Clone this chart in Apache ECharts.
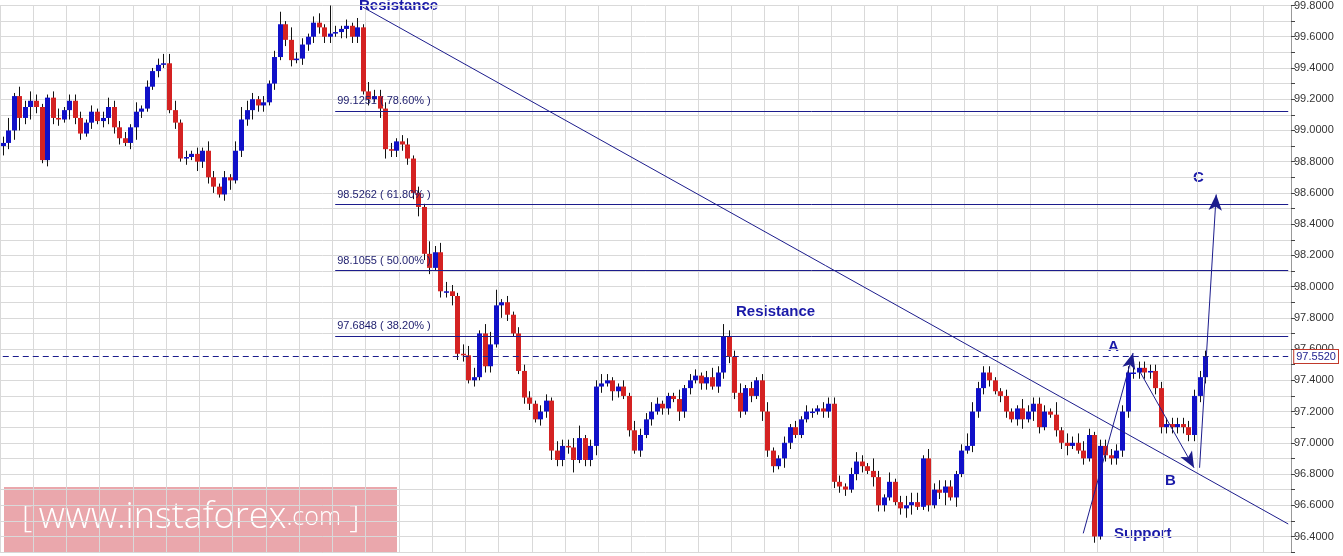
<!DOCTYPE html>
<html><head><meta charset="utf-8">
<script src="https://cdn.jsdelivr.net/npm/echarts@6/dist/echarts.min.js"></script>
<style>html,body{margin:0;padding:0;background:#fff}#c{width:1343px;height:556px}</style>
</head><body><div id="c"></div>
<script>
const closes = [
98.92,99.00,99.22,99.08,99.15,99.19,99.15,98.81,99.21,99.08,99.07,99.13,99.19,99.08,98.98,99.05,99.12,99.06,99.08,99.15,99.02,98.95,98.92,99.02,99.12,99.14,99.28,99.38,99.42,99.43,99.13,
99.05,98.82,98.83,98.85,98.80,98.87,98.70,98.64,98.59,98.70,98.68,98.87,99.07,99.13,99.20,99.16,99.18,99.30,99.47,99.68,99.58,99.45,99.46,99.55,99.60,99.69,99.66,99.60,99.62,99.63,99.65,99.67,99.60,99.66,
99.25,99.20,99.22,99.14,98.88,98.87,98.93,98.91,98.82,98.60,98.51,98.21,98.12,98.22,
97.97,97.97,97.94,97.57,97.56,97.40,97.42,97.70,97.49,97.63,97.88,97.90,97.82,97.70,97.46,97.29,97.25,97.15,97.20,97.27,96.95,96.89,96.98,96.97,96.89,97.03,96.89,96.98,97.36,
97.38,97.40,97.33,97.36,97.30,97.08,96.95,97.05,97.15,97.20,97.25,97.22,97.30,97.28,97.20,97.35,97.40,97.43,97.38,97.42,97.36,97.45,97.68,
97.55,97.32,97.20,97.35,97.30,97.40,97.20,96.95,96.85,96.90,97.00,97.10,97.05,97.15,97.20,97.20,97.22,97.20,97.25,96.75,96.72,96.70,96.80,96.88,96.85,96.82,96.78,96.60,96.65,96.75,96.62,96.58,96.60,96.62,96.59,96.90,96.60,96.70,96.68,96.72,96.65,96.80,96.95,96.98,97.20,97.35,97.45,97.40,97.33,97.30,97.20,97.15,97.22,97.15,97.20,97.25,97.10,97.20,97.18,97.08,97.00,96.98,97.00,96.95,96.90,97.05,96.40,
96.98,96.92,96.90,96.95,97.20,97.45,97.45,97.48,97.45,97.46,97.35,97.10,97.12,97.10,97.12,97.10,97.05,97.30,97.42,97.55
];
const firstOpen = 98.90;
// wick lengths in units of 0.02, one digit per candle
const wickUp = "2413232112312221212322213121233312121321213432121241422123192121313222212212142332133313451212221221322341223211213223211131221232422312123112121211222212321421312333132322124322211211322221413233212";
const wickDn = "3234242122213221212222124211211212132221231223221212212222221232212133222223221223221212214211221223222412232132121212122132212212222212132213211121222221221322112331121241311222212212313211223112121";
const fibLevels = [99.1251, 98.5262, 98.1055, 97.6848];
const fibLabels = ["99.1251 ( 78.60% )", "98.5262 ( 61.80% )", "98.1055 ( 50.00% )", "97.6848 ( 38.20% )"];
const lastPrice = 97.552;
const padCount = 15;

const n = closes.length;
const cats = [];
for (let i = 0; i < n + padCount; i++) cats.push(String(i));
const ohlc = closes.map((c, i) => {
  const o = i === 0 ? firstOpen : closes[i - 1];
  const up = (parseInt(wickUp[i]) || 2) * 0.02;
  const dn = (parseInt(wickDn[i]) || 2) * 0.02;
  return [i, o, c, Math.min(o, c) - dn, Math.max(o, c) + up];
});

const chart = echarts.init(document.getElementById('c'));
const navy = '#1c1c8c';
const last = n + padCount - 1;
const fibLines = fibLevels.map((v, k) => [
  {coord: [60, v], label: {show: true, position: 'insideStartTop', formatter: fibLabels[k], color: '#1c1c6c', fontSize: 11, fontFamily: 'Arial', distance: [2, 4]}},
  {coord: [last, v]}
]);
const arrow = (a, b) => [{coord: a}, {coord: b}];
chart.setOption({
  animation: false,
  backgroundColor: '#ffffff',
  grid: {left: 0, right: 52, top: 2.6, bottom: 3.9},
  xAxis: {type: 'category', data: cats, boundaryGap: true,
    axisLine: {show: false}, axisTick: {show: false}, axisLabel: {show: false},
    splitLine: {show: true, interval: 5, lineStyle: {color: '#d9d9d9'}}},
  yAxis: {type: 'value', position: 'right', min: 96.3, max: 99.8, interval: 0.1,
    axisLine: {show: true, lineStyle: {color: '#999'}},
    axisTick: {show: true, inside: false, length: 4, lineStyle: {color: '#444'}},
    axisLabel: {color: '#333', fontSize: 11, fontFamily: 'Arial', margin: 3,
      formatter: v => (Math.round(v * 10) % 2 === 0) ? v.toFixed(4) : ''},
    splitLine: {show: true, lineStyle: {color: '#d9d9d9'}}},
  series: [{
    type: 'custom',
    data: ohlc,
    encode: {x: 0, y: [1, 2, 3, 4]},
    renderItem: (params, api) => {
      const i = api.value(0), o = api.value(1), c = api.value(2), l = api.value(3), h = api.value(4);
      const pO = api.coord([i, o]), pC = api.coord([i, c]), pL = api.coord([i, l]), pH = api.coord([i, h]);
      const x = Math.round(pO[0]) + 0.5;
      const top = Math.min(pO[1], pC[1]), ht = Math.max(1.5, Math.abs(pO[1] - pC[1]));
      return {type: 'group', children: [
        {type: 'line', shape: {x1: x, y1: pH[1], x2: x, y2: pL[1]}, style: {stroke: '#111', lineWidth: 1}},
        {type: 'rect', shape: {x: x - 2.5, y: top, width: 5, height: ht}, style: {fill: c >= o ? '#1010c8' : '#d42222'}}
      ]};
    },
    markLine: {silent: true, symbol: ['none', 'none'], animation: false,
      lineStyle: {color: navy, width: 1, type: 'solid'},
      data: fibLines}
  }, {
    type: 'line', data: [],
    markLine: {silent: true, symbol: ['none', 'none'], animation: false,
      lineStyle: {color: navy, width: 1, type: 'solid'}, label: {show: false},
      data: [
        [{coord: [65, 99.789]}, {coord: [last, 96.48]}],
        [{coord: [0, lastPrice], lineStyle: {type: [6, 4], color: navy, width: 1},
          label: {show: true, position: 'end', formatter: lastPrice.toFixed(4), color: '#1c1c8c', backgroundColor: '#fff', borderColor: '#c0392b', borderWidth: 1, padding: [1, 2], fontSize: 11, fontFamily: 'Arial', distance: 6}},
         {coord: [last, lastPrice]}]
      ]}
  }, {
    type: 'line', data: [],
    markLine: {silent: true, symbol: ['none', 'arrow'], symbolSize: [10, 16], animation: false,
      lineStyle: {color: navy, width: 1, type: 'solid'}, label: {show: false},
      data: [arrow([195.3, 96.42], [203.7, 97.575]), arrow([205, 97.47], [215, 96.84]), arrow([215.5, 96.84], [218.6, 98.59])]}
  }],
  graphic: [
    {type: 'rect', shape: {x: 4, y: 487, width: 393, height: 66}, style: {fill: 'rgba(222,120,128,0.65)'}},
    {type: 'text', x: 22, y: 500, style: {text: '{a|[}  {b|www.instaforex}{c|.com}{a| ]}', rich: {
      a: {fill: '#fff', font: '300 32px "Open Sans", Arial'},
      b: {fill: '#fff', font: '300 36px "Open Sans", Arial'},
      c: {fill: '#fff', font: '300 25px "Open Sans", Arial'}}}},
    {type: 'text', x: 359, y: -2, style: {text: 'Resistance', fill: '#1a1aa8', font: 'bold 15px Arial'}},
    {type: 'text', x: 736, y: 304, style: {text: 'Resistance', fill: '#1a1aa8', font: 'bold 15px Arial'}},
    {type: 'text', x: 1108, y: 339, style: {text: 'A', fill: '#1a1aa8', font: 'bold 15px Arial'}},
    {type: 'text', x: 1165, y: 473, style: {text: 'B', fill: '#1a1aa8', font: 'bold 15px Arial'}},
    {type: 'text', x: 1193, y: 170, style: {text: 'C', fill: '#1a1aa8', font: 'bold 15px Arial'}},
    {type: 'text', x: 1114, y: 526, style: {text: 'Support', fill: '#1a1aa8', font: 'bold 15px Arial'}}
  ]
});
</script></body></html>
